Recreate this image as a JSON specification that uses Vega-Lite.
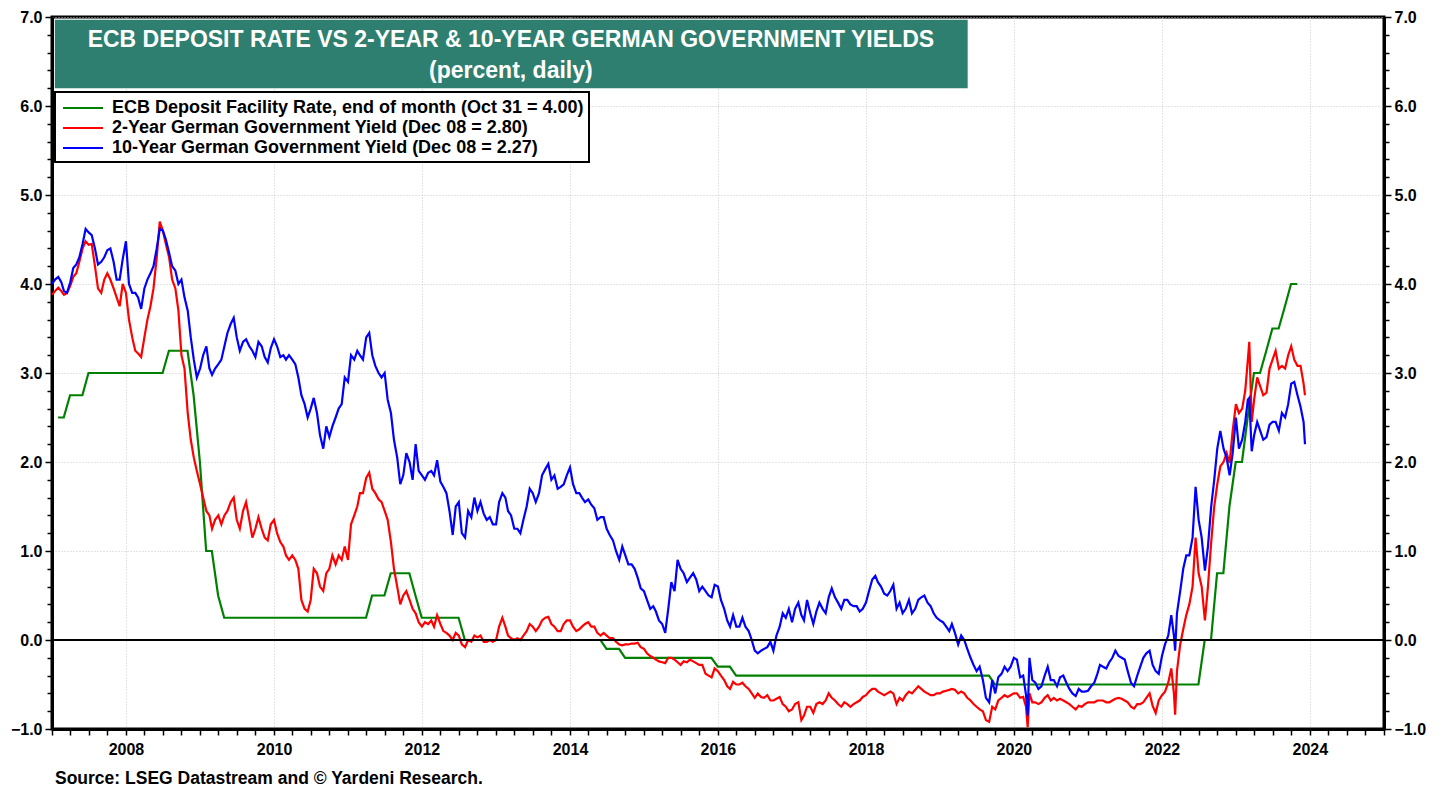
{
"$schema": "https://vega.github.io/schema/vega-lite/v6.json",
"width": 1332, "height": 712,
"autosize": {"type": "none"},
"padding": {"left": 52, "top": 17, "right": 62, "bottom": 61},
"background": "white",
"config": {"font": "Liberation Sans", "view": {"stroke": "black", "strokeWidth": 3}, "legend": {"strokeWidth": 2}},
"title": {"text": "Source: LSEG Datastream and © Yardeni Research.", "orient": "bottom", "anchor": "start", "frame": "group", "fontSize": 17.5, "fontWeight": "bold", "color": "black", "offset": 13, "dx": 3},
"datasets": {
"ecb": [
{"d":"2007-01-31","s":"ecb","v":2.5},{"d":"2007-02-28","s":"ecb","v":2.5},{"d":"2007-03-31","s":"ecb","v":2.75},{"d":"2007-05-31","s":"ecb","v":2.75},{"d":"2007-06-30","s":"ecb","v":3.0},{"d":"2008-06-30","s":"ecb","v":3.0},{"d":"2008-07-31","s":"ecb","v":3.25},{"d":"2008-10-31","s":"ecb","v":3.25},{"d":"2008-11-30","s":"ecb","v":2.75},{"d":"2008-12-31","s":"ecb","v":2.0},{"d":"2009-01-31","s":"ecb","v":1.0},{"d":"2009-02-28","s":"ecb","v":1.0},{"d":"2009-03-31","s":"ecb","v":0.5},{"d":"2009-04-30","s":"ecb","v":0.25},{"d":"2011-03-31","s":"ecb","v":0.25},{"d":"2011-04-30","s":"ecb","v":0.5},{"d":"2011-06-30","s":"ecb","v":0.5},{"d":"2011-07-31","s":"ecb","v":0.75},{"d":"2011-10-31","s":"ecb","v":0.75},{"d":"2011-11-30","s":"ecb","v":0.5},{"d":"2011-12-31","s":"ecb","v":0.25},{"d":"2012-06-30","s":"ecb","v":0.25},{"d":"2012-07-31","s":"ecb","v":0.0},{"d":"2014-05-31","s":"ecb","v":0.0},{"d":"2014-06-30","s":"ecb","v":-0.1},{"d":"2014-08-31","s":"ecb","v":-0.1},{"d":"2014-09-30","s":"ecb","v":-0.2},{"d":"2015-11-30","s":"ecb","v":-0.2},{"d":"2015-12-31","s":"ecb","v":-0.3},{"d":"2016-02-29","s":"ecb","v":-0.3},{"d":"2016-03-31","s":"ecb","v":-0.4},{"d":"2019-08-31","s":"ecb","v":-0.4},{"d":"2019-09-30","s":"ecb","v":-0.5},{"d":"2022-06-30","s":"ecb","v":-0.5},{"d":"2022-07-31","s":"ecb","v":0.0},{"d":"2022-08-31","s":"ecb","v":0.0},{"d":"2022-09-30","s":"ecb","v":0.75},{"d":"2022-10-31","s":"ecb","v":0.75},{"d":"2022-11-30","s":"ecb","v":1.5},{"d":"2022-12-31","s":"ecb","v":2.0},{"d":"2023-01-31","s":"ecb","v":2.0},{"d":"2023-02-28","s":"ecb","v":2.5},{"d":"2023-03-31","s":"ecb","v":3.0},{"d":"2023-04-30","s":"ecb","v":3.0},{"d":"2023-05-31","s":"ecb","v":3.25},{"d":"2023-06-30","s":"ecb","v":3.5},{"d":"2023-07-31","s":"ecb","v":3.5},{"d":"2023-08-31","s":"ecb","v":3.75},{"d":"2023-09-30","s":"ecb","v":4.0},{"d":"2023-10-31","s":"ecb","v":4.0}
],
"yields": [
{"d":"2007-01-01","a":3.88,"b":4.00},{"d":"2007-01-16","a":3.92,"b":4.05},{"d":"2007-02-01","a":3.96,"b":4.08},{"d":"2007-02-16","a":3.92,"b":4.02},{"d":"2007-03-01","a":3.88,"b":3.92},{"d":"2007-03-16","a":3.90,"b":3.90},{"d":"2007-04-01","a":3.98,"b":4.02},{"d":"2007-04-16","a":4.08,"b":4.18},{"d":"2007-05-01","a":4.12,"b":4.22},{"d":"2007-05-16","a":4.25,"b":4.30},{"d":"2007-06-01","a":4.40,"b":4.45},{"d":"2007-06-16","a":4.48,"b":4.62},{"d":"2007-07-01","a":4.44,"b":4.58},{"d":"2007-07-16","a":4.45,"b":4.55},{"d":"2007-08-01","a":4.20,"b":4.40},{"d":"2007-08-16","a":3.95,"b":4.22},{"d":"2007-09-01","a":3.90,"b":4.25},{"d":"2007-09-16","a":4.05,"b":4.30},{"d":"2007-10-01","a":4.12,"b":4.38},{"d":"2007-10-16","a":4.05,"b":4.40},{"d":"2007-11-01","a":3.95,"b":4.25},{"d":"2007-11-16","a":3.85,"b":4.05},{"d":"2007-12-01","a":3.75,"b":4.05},{"d":"2007-12-16","a":4.00,"b":4.28},
{"d":"2008-01-01","a":3.90,"b":4.48},{"d":"2008-01-16","a":3.60,"b":4.00},{"d":"2008-02-01","a":3.40,"b":3.90},{"d":"2008-02-16","a":3.25,"b":3.90},{"d":"2008-03-01","a":3.22,"b":3.85},{"d":"2008-03-16","a":3.18,"b":3.72},{"d":"2008-04-01","a":3.40,"b":3.95},{"d":"2008-04-16","a":3.60,"b":4.05},{"d":"2008-05-01","a":3.75,"b":4.12},{"d":"2008-05-16","a":3.95,"b":4.20},{"d":"2008-06-01","a":4.30,"b":4.40},{"d":"2008-06-16","a":4.70,"b":4.62},{"d":"2008-07-01","a":4.60,"b":4.60},{"d":"2008-07-16","a":4.45,"b":4.50},{"d":"2008-08-01","a":4.30,"b":4.35},{"d":"2008-08-16","a":4.05,"b":4.20},{"d":"2008-09-01","a":3.95,"b":4.15},{"d":"2008-09-16","a":3.70,"b":4.00},{"d":"2008-10-01","a":3.20,"b":4.05},{"d":"2008-10-16","a":3.05,"b":3.85},{"d":"2008-11-01","a":2.55,"b":3.70},{"d":"2008-11-16","a":2.25,"b":3.40},{"d":"2008-12-01","a":2.05,"b":3.15},{"d":"2008-12-16","a":1.90,"b":2.95},
{"d":"2009-01-01","a":1.75,"b":3.05},{"d":"2009-01-16","a":1.60,"b":3.20},{"d":"2009-02-01","a":1.45,"b":3.30},{"d":"2009-02-16","a":1.40,"b":3.05},{"d":"2009-03-01","a":1.25,"b":2.98},{"d":"2009-03-16","a":1.35,"b":3.05},{"d":"2009-04-01","a":1.40,"b":3.10},{"d":"2009-04-16","a":1.30,"b":3.15},{"d":"2009-05-01","a":1.40,"b":3.30},{"d":"2009-05-16","a":1.45,"b":3.45},{"d":"2009-06-01","a":1.55,"b":3.55},{"d":"2009-06-16","a":1.60,"b":3.62},{"d":"2009-07-01","a":1.35,"b":3.40},{"d":"2009-07-16","a":1.25,"b":3.25},{"d":"2009-08-01","a":1.45,"b":3.35},{"d":"2009-08-16","a":1.55,"b":3.38},{"d":"2009-09-01","a":1.35,"b":3.30},{"d":"2009-09-16","a":1.15,"b":3.25},{"d":"2009-10-01","a":1.25,"b":3.18},{"d":"2009-10-16","a":1.38,"b":3.35},{"d":"2009-11-01","a":1.25,"b":3.30},{"d":"2009-11-16","a":1.15,"b":3.18},{"d":"2009-12-01","a":1.12,"b":3.12},{"d":"2009-12-16","a":1.30,"b":3.28},
{"d":"2010-01-01","a":1.35,"b":3.38},{"d":"2010-01-16","a":1.20,"b":3.30},{"d":"2010-02-01","a":1.10,"b":3.18},{"d":"2010-02-16","a":1.05,"b":3.20},{"d":"2010-03-01","a":0.95,"b":3.15},{"d":"2010-03-16","a":0.90,"b":3.20},{"d":"2010-04-01","a":0.95,"b":3.15},{"d":"2010-04-16","a":0.90,"b":3.10},{"d":"2010-05-01","a":0.80,"b":2.95},{"d":"2010-05-16","a":0.45,"b":2.75},{"d":"2010-06-01","a":0.35,"b":2.65},{"d":"2010-06-16","a":0.32,"b":2.50},{"d":"2010-07-01","a":0.45,"b":2.60},{"d":"2010-07-16","a":0.80,"b":2.72},{"d":"2010-08-01","a":0.75,"b":2.55},{"d":"2010-08-16","a":0.60,"b":2.30},{"d":"2010-09-01","a":0.55,"b":2.15},{"d":"2010-09-16","a":0.75,"b":2.40},{"d":"2010-10-01","a":0.80,"b":2.28},{"d":"2010-10-16","a":0.95,"b":2.40},{"d":"2010-11-01","a":0.85,"b":2.50},{"d":"2010-11-16","a":0.95,"b":2.60},{"d":"2010-12-01","a":0.90,"b":2.65},{"d":"2010-12-16","a":1.05,"b":2.95},
{"d":"2011-01-01","a":0.90,"b":2.90},{"d":"2011-01-16","a":1.30,"b":3.20},{"d":"2011-02-01","a":1.40,"b":3.15},{"d":"2011-02-16","a":1.50,"b":3.25},{"d":"2011-03-01","a":1.65,"b":3.20},{"d":"2011-03-16","a":1.65,"b":3.15},{"d":"2011-04-01","a":1.82,"b":3.40},{"d":"2011-04-16","a":1.88,"b":3.45},{"d":"2011-05-01","a":1.70,"b":3.20},{"d":"2011-05-16","a":1.65,"b":3.08},{"d":"2011-06-01","a":1.58,"b":3.00},{"d":"2011-06-16","a":1.55,"b":2.95},{"d":"2011-07-01","a":1.45,"b":3.00},{"d":"2011-07-16","a":1.35,"b":2.70},{"d":"2011-08-01","a":1.10,"b":2.55},{"d":"2011-08-16","a":0.80,"b":2.25},{"d":"2011-09-01","a":0.60,"b":2.05},{"d":"2011-09-16","a":0.40,"b":1.75},{"d":"2011-10-01","a":0.50,"b":1.85},{"d":"2011-10-16","a":0.55,"b":2.10},{"d":"2011-11-01","a":0.45,"b":2.00},{"d":"2011-11-16","a":0.35,"b":1.80},{"d":"2011-12-01","a":0.30,"b":2.20},{"d":"2011-12-16","a":0.20,"b":1.90},
{"d":"2012-01-01","a":0.15,"b":1.85},{"d":"2012-01-16","a":0.20,"b":1.80},{"d":"2012-02-01","a":0.18,"b":1.88},{"d":"2012-02-16","a":0.22,"b":1.90},{"d":"2012-03-01","a":0.15,"b":1.85},{"d":"2012-03-16","a":0.28,"b":2.02},{"d":"2012-04-01","a":0.18,"b":1.78},{"d":"2012-04-16","a":0.10,"b":1.72},{"d":"2012-05-01","a":0.08,"b":1.65},{"d":"2012-05-16","a":0.05,"b":1.45},{"d":"2012-06-01","a":0.00,"b":1.18},{"d":"2012-06-16","a":0.08,"b":1.50},{"d":"2012-07-01","a":0.05,"b":1.55},{"d":"2012-07-16","a":-0.05,"b":1.20},{"d":"2012-08-01","a":-0.08,"b":1.15},{"d":"2012-08-16","a":0.00,"b":1.45},{"d":"2012-09-01","a":-0.02,"b":1.38},{"d":"2012-09-16","a":0.05,"b":1.60},{"d":"2012-10-01","a":0.03,"b":1.45},{"d":"2012-10-16","a":0.05,"b":1.55},{"d":"2012-11-01","a":-0.02,"b":1.42},{"d":"2012-11-16","a":-0.02,"b":1.35},{"d":"2012-12-01","a":0.00,"b":1.38},{"d":"2012-12-16","a":-0.02,"b":1.30},
{"d":"2013-01-01","a":0.00,"b":1.30},{"d":"2013-01-16","a":0.15,"b":1.55},{"d":"2013-02-01","a":0.25,"b":1.65},{"d":"2013-02-16","a":0.15,"b":1.60},{"d":"2013-03-01","a":0.05,"b":1.45},{"d":"2013-03-16","a":0.02,"b":1.40},{"d":"2013-04-01","a":0.00,"b":1.25},{"d":"2013-04-16","a":0.02,"b":1.25},{"d":"2013-05-01","a":0.00,"b":1.20},{"d":"2013-05-16","a":0.05,"b":1.35},{"d":"2013-06-01","a":0.10,"b":1.50},{"d":"2013-06-16","a":0.18,"b":1.70},{"d":"2013-07-01","a":0.15,"b":1.65},{"d":"2013-07-16","a":0.10,"b":1.55},{"d":"2013-08-01","a":0.15,"b":1.65},{"d":"2013-08-16","a":0.22,"b":1.85},{"d":"2013-09-01","a":0.25,"b":1.92},{"d":"2013-09-16","a":0.26,"b":1.98},{"d":"2013-10-01","a":0.18,"b":1.80},{"d":"2013-10-16","a":0.15,"b":1.85},{"d":"2013-11-01","a":0.10,"b":1.70},{"d":"2013-11-16","a":0.10,"b":1.72},{"d":"2013-12-01","a":0.18,"b":1.75},{"d":"2013-12-16","a":0.22,"b":1.85},
{"d":"2014-01-01","a":0.22,"b":1.94},{"d":"2014-01-16","a":0.15,"b":1.75},{"d":"2014-02-01","a":0.10,"b":1.65},{"d":"2014-02-16","a":0.12,"b":1.65},{"d":"2014-03-01","a":0.15,"b":1.60},{"d":"2014-03-16","a":0.18,"b":1.55},{"d":"2014-04-01","a":0.20,"b":1.58},{"d":"2014-04-16","a":0.15,"b":1.52},{"d":"2014-05-01","a":0.15,"b":1.48},{"d":"2014-05-16","a":0.08,"b":1.35},{"d":"2014-06-01","a":0.05,"b":1.38},{"d":"2014-06-16","a":0.08,"b":1.38},{"d":"2014-07-01","a":0.05,"b":1.25},{"d":"2014-07-16","a":0.02,"b":1.18},{"d":"2014-08-01","a":0.02,"b":1.12},{"d":"2014-08-16","a":-0.02,"b":1.00},{"d":"2014-09-01","a":-0.05,"b":0.90},{"d":"2014-09-16","a":-0.06,"b":1.05},{"d":"2014-10-01","a":-0.05,"b":0.95},{"d":"2014-10-16","a":-0.05,"b":0.85},{"d":"2014-11-01","a":-0.04,"b":0.85},{"d":"2014-11-16","a":-0.04,"b":0.80},{"d":"2014-12-01","a":-0.03,"b":0.70},{"d":"2014-12-16","a":-0.08,"b":0.58},
{"d":"2015-01-01","a":-0.10,"b":0.55},{"d":"2015-01-16","a":-0.15,"b":0.45},{"d":"2015-02-01","a":-0.18,"b":0.35},{"d":"2015-02-16","a":-0.20,"b":0.38},{"d":"2015-03-01","a":-0.22,"b":0.32},{"d":"2015-03-16","a":-0.24,"b":0.22},{"d":"2015-04-01","a":-0.25,"b":0.18},{"d":"2015-04-16","a":-0.26,"b":0.08},{"d":"2015-05-01","a":-0.20,"b":0.35},{"d":"2015-05-16","a":-0.20,"b":0.65},{"d":"2015-06-01","a":-0.22,"b":0.55},{"d":"2015-06-16","a":-0.25,"b":0.90},{"d":"2015-07-01","a":-0.28,"b":0.80},{"d":"2015-07-16","a":-0.24,"b":0.75},{"d":"2015-08-01","a":-0.25,"b":0.65},{"d":"2015-08-16","a":-0.22,"b":0.70},{"d":"2015-09-01","a":-0.24,"b":0.75},{"d":"2015-09-16","a":-0.26,"b":0.68},{"d":"2015-10-01","a":-0.28,"b":0.55},{"d":"2015-10-16","a":-0.28,"b":0.60},{"d":"2015-11-01","a":-0.38,"b":0.55},{"d":"2015-11-16","a":-0.40,"b":0.50},{"d":"2015-12-01","a":-0.42,"b":0.48},{"d":"2015-12-16","a":-0.32,"b":0.62},
{"d":"2016-01-01","a":-0.35,"b":0.60},{"d":"2016-01-16","a":-0.40,"b":0.45},{"d":"2016-02-01","a":-0.45,"b":0.35},{"d":"2016-02-16","a":-0.52,"b":0.22},{"d":"2016-03-01","a":-0.55,"b":0.15},{"d":"2016-03-16","a":-0.47,"b":0.28},{"d":"2016-04-01","a":-0.50,"b":0.15},{"d":"2016-04-16","a":-0.50,"b":0.15},{"d":"2016-05-01","a":-0.48,"b":0.25},{"d":"2016-05-16","a":-0.52,"b":0.15},{"d":"2016-06-01","a":-0.55,"b":0.10},{"d":"2016-06-16","a":-0.60,"b":0.00},{"d":"2016-07-01","a":-0.65,"b":-0.12},{"d":"2016-07-16","a":-0.60,"b":-0.15},{"d":"2016-08-01","a":-0.64,"b":-0.12},{"d":"2016-08-16","a":-0.65,"b":-0.10},{"d":"2016-09-01","a":-0.62,"b":-0.08},{"d":"2016-09-16","a":-0.68,"b":-0.02},{"d":"2016-10-01","a":-0.68,"b":-0.12},{"d":"2016-10-16","a":-0.66,"b":0.05},{"d":"2016-11-01","a":-0.64,"b":0.15},{"d":"2016-11-16","a":-0.72,"b":0.30},{"d":"2016-12-01","a":-0.75,"b":0.25},{"d":"2016-12-16","a":-0.80,"b":0.35},
{"d":"2017-01-01","a":-0.78,"b":0.20},{"d":"2017-01-16","a":-0.72,"b":0.35},{"d":"2017-02-01","a":-0.70,"b":0.42},{"d":"2017-02-16","a":-0.90,"b":0.28},{"d":"2017-03-01","a":-0.85,"b":0.22},{"d":"2017-03-16","a":-0.75,"b":0.45},{"d":"2017-04-01","a":-0.75,"b":0.30},{"d":"2017-04-16","a":-0.82,"b":0.18},{"d":"2017-05-01","a":-0.72,"b":0.32},{"d":"2017-05-16","a":-0.70,"b":0.42},{"d":"2017-06-01","a":-0.72,"b":0.35},{"d":"2017-06-16","a":-0.68,"b":0.30},{"d":"2017-07-01","a":-0.60,"b":0.48},{"d":"2017-07-16","a":-0.65,"b":0.58},{"d":"2017-08-01","a":-0.68,"b":0.48},{"d":"2017-08-16","a":-0.72,"b":0.42},{"d":"2017-09-01","a":-0.75,"b":0.35},{"d":"2017-09-16","a":-0.70,"b":0.45},{"d":"2017-10-01","a":-0.72,"b":0.45},{"d":"2017-10-16","a":-0.75,"b":0.40},{"d":"2017-11-01","a":-0.72,"b":0.38},{"d":"2017-11-16","a":-0.70,"b":0.38},{"d":"2017-12-01","a":-0.68,"b":0.32},{"d":"2017-12-16","a":-0.64,"b":0.35},
{"d":"2018-01-01","a":-0.62,"b":0.42},{"d":"2018-01-16","a":-0.58,"b":0.55},{"d":"2018-02-01","a":-0.55,"b":0.68},{"d":"2018-02-16","a":-0.55,"b":0.72},{"d":"2018-03-01","a":-0.58,"b":0.65},{"d":"2018-03-16","a":-0.60,"b":0.60},{"d":"2018-04-01","a":-0.62,"b":0.52},{"d":"2018-04-16","a":-0.60,"b":0.50},{"d":"2018-05-01","a":-0.58,"b":0.55},{"d":"2018-05-16","a":-0.60,"b":0.62},{"d":"2018-06-01","a":-0.72,"b":0.35},{"d":"2018-06-16","a":-0.65,"b":0.42},{"d":"2018-07-01","a":-0.68,"b":0.30},{"d":"2018-07-16","a":-0.62,"b":0.35},{"d":"2018-08-01","a":-0.58,"b":0.45},{"d":"2018-08-16","a":-0.60,"b":0.30},{"d":"2018-09-01","a":-0.56,"b":0.35},{"d":"2018-09-16","a":-0.52,"b":0.45},{"d":"2018-10-01","a":-0.55,"b":0.48},{"d":"2018-10-16","a":-0.58,"b":0.50},{"d":"2018-11-01","a":-0.60,"b":0.42},{"d":"2018-11-16","a":-0.62,"b":0.38},{"d":"2018-12-01","a":-0.62,"b":0.30},{"d":"2018-12-16","a":-0.60,"b":0.25},
{"d":"2019-01-01","a":-0.60,"b":0.22},{"d":"2019-01-16","a":-0.58,"b":0.20},{"d":"2019-02-01","a":-0.57,"b":0.15},{"d":"2019-02-16","a":-0.56,"b":0.10},{"d":"2019-03-01","a":-0.55,"b":0.18},{"d":"2019-03-16","a":-0.56,"b":0.08},{"d":"2019-04-01","a":-0.60,"b":-0.05},{"d":"2019-04-16","a":-0.58,"b":0.05},{"d":"2019-05-01","a":-0.60,"b":0.00},{"d":"2019-05-16","a":-0.65,"b":-0.10},{"d":"2019-06-01","a":-0.68,"b":-0.20},{"d":"2019-06-16","a":-0.72,"b":-0.28},{"d":"2019-07-01","a":-0.75,"b":-0.35},{"d":"2019-07-16","a":-0.78,"b":-0.30},{"d":"2019-08-01","a":-0.80,"b":-0.45},{"d":"2019-08-16","a":-0.90,"b":-0.65},{"d":"2019-09-01","a":-0.92,"b":-0.70},{"d":"2019-09-16","a":-0.75,"b":-0.45},{"d":"2019-10-01","a":-0.78,"b":-0.60},{"d":"2019-10-16","a":-0.68,"b":-0.42},{"d":"2019-11-01","a":-0.65,"b":-0.38},{"d":"2019-11-16","a":-0.62,"b":-0.30},{"d":"2019-12-01","a":-0.64,"b":-0.35},{"d":"2019-12-16","a":-0.62,"b":-0.30},
{"d":"2020-01-01","a":-0.60,"b":-0.20},{"d":"2020-01-16","a":-0.60,"b":-0.22},{"d":"2020-02-01","a":-0.65,"b":-0.42},{"d":"2020-02-16","a":-0.64,"b":-0.40},{"d":"2020-03-01","a":-0.75,"b":-0.62},{"d":"2020-03-09","a":-0.98,"b":-0.85},{"d":"2020-03-18","a":-0.60,"b":-0.20},{"d":"2020-04-01","a":-0.70,"b":-0.45},{"d":"2020-04-16","a":-0.70,"b":-0.48},{"d":"2020-05-01","a":-0.72,"b":-0.55},{"d":"2020-05-16","a":-0.70,"b":-0.52},{"d":"2020-06-01","a":-0.65,"b":-0.40},{"d":"2020-06-16","a":-0.62,"b":-0.30},{"d":"2020-07-01","a":-0.68,"b":-0.45},{"d":"2020-07-16","a":-0.65,"b":-0.45},{"d":"2020-08-01","a":-0.68,"b":-0.52},{"d":"2020-08-16","a":-0.66,"b":-0.42},{"d":"2020-09-01","a":-0.68,"b":-0.40},{"d":"2020-09-16","a":-0.70,"b":-0.48},{"d":"2020-10-01","a":-0.72,"b":-0.55},{"d":"2020-10-16","a":-0.75,"b":-0.60},{"d":"2020-11-01","a":-0.78,"b":-0.63},{"d":"2020-11-16","a":-0.74,"b":-0.55},{"d":"2020-12-01","a":-0.75,"b":-0.58},{"d":"2020-12-16","a":-0.72,"b":-0.58},
{"d":"2021-01-01","a":-0.70,"b":-0.57},{"d":"2021-01-16","a":-0.70,"b":-0.52},{"d":"2021-02-01","a":-0.70,"b":-0.48},{"d":"2021-02-16","a":-0.68,"b":-0.38},{"d":"2021-03-01","a":-0.68,"b":-0.28},{"d":"2021-03-16","a":-0.68,"b":-0.30},{"d":"2021-04-01","a":-0.70,"b":-0.32},{"d":"2021-04-16","a":-0.70,"b":-0.25},{"d":"2021-05-01","a":-0.68,"b":-0.20},{"d":"2021-05-16","a":-0.66,"b":-0.12},{"d":"2021-06-01","a":-0.65,"b":-0.18},{"d":"2021-06-16","a":-0.66,"b":-0.20},{"d":"2021-07-01","a":-0.68,"b":-0.22},{"d":"2021-07-16","a":-0.70,"b":-0.35},{"d":"2021-08-01","a":-0.75,"b":-0.48},{"d":"2021-08-16","a":-0.77,"b":-0.52},{"d":"2021-09-01","a":-0.72,"b":-0.40},{"d":"2021-09-16","a":-0.72,"b":-0.30},{"d":"2021-10-01","a":-0.70,"b":-0.20},{"d":"2021-10-16","a":-0.65,"b":-0.15},{"d":"2021-11-01","a":-0.60,"b":-0.12},{"d":"2021-11-16","a":-0.74,"b":-0.28},{"d":"2021-12-01","a":-0.82,"b":-0.35},{"d":"2021-12-16","a":-0.68,"b":-0.38},
{"d":"2022-01-01","a":-0.62,"b":-0.18},{"d":"2022-01-16","a":-0.58,"b":-0.05},{"d":"2022-02-01","a":-0.48,"b":0.05},{"d":"2022-02-16","a":-0.32,"b":0.28},{"d":"2022-03-01","a":-0.60,"b":0.05},{"d":"2022-03-07","a":-0.84,"b":-0.12},{"d":"2022-03-16","a":-0.35,"b":0.30},{"d":"2022-04-01","a":-0.05,"b":0.55},{"d":"2022-04-16","a":0.12,"b":0.80},{"d":"2022-05-01","a":0.28,"b":0.95},{"d":"2022-05-16","a":0.40,"b":0.95},{"d":"2022-06-01","a":0.60,"b":1.15},{"d":"2022-06-16","a":1.15,"b":1.72},{"d":"2022-07-01","a":0.75,"b":1.35},{"d":"2022-07-16","a":0.60,"b":1.15},{"d":"2022-08-01","a":0.22,"b":0.78},{"d":"2022-08-16","a":0.60,"b":1.05},{"d":"2022-09-01","a":1.10,"b":1.50},{"d":"2022-09-16","a":1.50,"b":1.80},{"d":"2022-10-01","a":1.75,"b":2.15},{"d":"2022-10-16","a":1.95,"b":2.35},{"d":"2022-11-01","a":2.00,"b":2.15},{"d":"2022-11-16","a":2.10,"b":2.05},{"d":"2022-12-01","a":1.99,"b":1.85},{"d":"2022-12-16","a":2.35,"b":2.10},
{"d":"2023-01-01","a":2.65,"b":2.50},{"d":"2023-01-16","a":2.55,"b":2.15},{"d":"2023-02-01","a":2.60,"b":2.25},{"d":"2023-02-16","a":2.80,"b":2.45},{"d":"2023-03-01","a":3.15,"b":2.70},{"d":"2023-03-08","a":3.35,"b":2.72},{"d":"2023-03-20","a":2.45,"b":2.12},{"d":"2023-04-01","a":2.70,"b":2.30},{"d":"2023-04-16","a":2.95,"b":2.45},{"d":"2023-05-01","a":2.85,"b":2.35},{"d":"2023-05-16","a":2.75,"b":2.25},{"d":"2023-06-01","a":2.78,"b":2.28},{"d":"2023-06-16","a":3.05,"b":2.42},{"d":"2023-07-01","a":3.15,"b":2.45},{"d":"2023-07-16","a":3.25,"b":2.45},{"d":"2023-08-01","a":3.05,"b":2.35},{"d":"2023-08-16","a":3.08,"b":2.55},{"d":"2023-09-01","a":3.05,"b":2.50},{"d":"2023-09-16","a":3.20,"b":2.65},{"d":"2023-10-01","a":3.30,"b":2.88},{"d":"2023-10-16","a":3.15,"b":2.90},{"d":"2023-11-01","a":3.08,"b":2.75},{"d":"2023-11-16","a":3.08,"b":2.62},{"d":"2023-12-01","a":2.88,"b":2.45},{"d":"2023-12-08","a":2.75,"b":2.20}
]
},
"layer": [
{
"data": {"name": "ecb"},
"mark": {"type": "line", "strokeWidth": 2.2, "interpolate": "linear"},
"encoding": {
"x": {"field": "d", "type": "temporal",
 "scale": {"type": "utc", "domain": [{"year": 2007, "month": 1, "date": 1, "utc": true}, {"year": 2025, "month": 1, "date": 1, "utc": true}]},
 "axis": {"title": null, "tickCount": {"interval": "month", "step": 3},
  "labelExpr": "utcmonth(datum.value)==0 && utcyear(datum.value)%2==0 ? utcFormat(datum.value,'%Y') : ''",
  "labelFont": "Liberation Sans", "labelFontSize": 16, "labelFontWeight": "bold", "labelColor": "black", "labelPadding": 6, "labelOverlap": false,
  "domainColor": "black", "domainWidth": 3, "tickColor": "black", "tickWidth": 1.5, "tickSize": 6,
  "grid": true, "gridColor": "#c8c8c8", "gridDash": [1, 2], "gridWidth": 1,
  "gridOpacity": {"condition": {"test": "utcmonth(datum.value)==0 && utcyear(datum.value)%2==0", "value": 1}, "value": 0}}},
"y": {"field": "v", "type": "quantitative",
 "scale": {"domain": [-1, 7], "nice": false, "zero": false},
 "axis": {"title": null, "orient": "left", "values": [-1,-0.8,-0.6,-0.4,-0.2,0,0.2,0.4,0.6,0.8,1,1.2,1.4,1.6,1.8,2,2.2,2.4,2.6,2.8,3,3.2,3.4,3.6,3.8,4,4.2,4.4,4.6,4.8,5,5.2,5.4,5.6,5.8,6,6.2,6.4,6.6,6.8,7],
  "labelExpr": "abs(datum.value-round(datum.value))<0.01 ? format(datum.value,'.1f') : ''",
  "labelFont": "Liberation Sans", "labelFontSize": 16, "labelFontWeight": "bold", "labelColor": "black", "labelPadding": 3, "labelOverlap": false,
  "domainColor": "black", "domainWidth": 3, "tickColor": "black", "tickWidth": 1.5,
  "tickSize": {"condition": {"test": "abs(datum.value-round(datum.value))<0.01", "value": 7}, "value": 5},
  "grid": true, "gridColor": "#c8c8c8", "gridDash": [1, 2], "gridWidth": 1,
  "gridOpacity": {"condition": {"test": "abs(datum.value-round(datum.value))<0.01", "value": 1}, "value": 0}}},
"color": {"field": "s", "type": "nominal",
 "scale": {"domain": ["ecb", "a", "b"], "range": ["#008000", "#ff0000", "#0000ff"]},
 "legend": {"orient": "none", "legendX": 3, "legendY": 75, "title": null, "direction": "vertical",
  "symbolType": "M-2,0L2,0", "symbolSize": 400, "symbolStrokeWidth": 2, "rowPadding": 0, "symbolOffset": 12,
  "labelFont": "Liberation Sans", "labelFontSize": 18, "labelFontWeight": "bold", "labelColor": "black", "labelLimit": 700, "labelOffset": 18,
  "strokeColor": "black", "fillColor": "white", "padding": 5,
  "labelExpr": "datum.label=='ecb' ? 'ECB Deposit Facility Rate, end of month (Oct 31 = 4.00)' : datum.label=='a' ? '2-Year German Government Yield (Dec 08 = 2.80)' : '10-Year German Government Yield (Dec 08 = 2.27)'"}}
}
},
{
"data": {"name": "yields"},
"transform": [{"fold": ["a", "b"], "as": ["s", "v"]}],
"mark": {"type": "line", "strokeWidth": 2.2},
"encoding": {
"x": {"field": "d", "type": "temporal"},
"y": {"field": "v", "type": "quantitative", "axis": null},
"color": {"field": "s", "type": "nominal"}
}
},
{
"data": {"values": [{"z": 0}]},
"mark": {"type": "rule", "color": "black", "strokeWidth": 2},
"encoding": {
"y": {"field": "z", "type": "quantitative",
 "axis": {"title": null, "orient": "right", "values": [-1,-0.8,-0.6,-0.4,-0.2,0,0.2,0.4,0.6,0.8,1,1.2,1.4,1.6,1.8,2,2.2,2.4,2.6,2.8,3,3.2,3.4,3.6,3.8,4,4.2,4.4,4.6,4.8,5,5.2,5.4,5.6,5.8,6,6.2,6.4,6.6,6.8,7],
  "labelExpr": "abs(datum.value-round(datum.value))<0.01 ? format(datum.value,'.1f') : ''",
  "labelFont": "Liberation Sans", "labelFontSize": 16, "labelFontWeight": "bold", "labelColor": "black", "labelPadding": 3, "labelOverlap": false,
  "domainColor": "black", "domainWidth": 3, "tickColor": "black", "tickWidth": 1.5,
  "tickSize": {"condition": {"test": "abs(datum.value-round(datum.value))<0.01", "value": 7}, "value": 5},
  "grid": false}}
}
},
{
"data": {"values": [{"x1": "2007-01-15", "x2": "2019-05-18", "y1": 6.2, "y2": 6.97}]},
"mark": {"type": "rect", "color": "#2f7f70"},
"encoding": {
"x": {"field": "x1", "type": "temporal"},
"x2": {"field": "x2"},
"y": {"field": "y1", "type": "quantitative", "axis": null},
"y2": {"field": "y2"}
}
},
{
"data": {"values": [{"t": "ECB DEPOSIT RATE VS 2-YEAR & 10-YEAR GERMAN GOVERNMENT YIELDS", "d": "2013-03-15", "v": 6.74}, {"t": "(percent, daily)", "d": "2013-03-15", "v": 6.39}]},
"mark": {"type": "text", "color": "white", "font": "Liberation Sans", "fontSize": 23, "fontWeight": "bold", "align": "center", "baseline": "middle"},
"encoding": {
"x": {"field": "d", "type": "temporal"},
"y": {"field": "v", "type": "quantitative", "axis": null},
"text": {"field": "t"}
}
}
],
"resolve": {"axis": {"y": "independent"}}
}
